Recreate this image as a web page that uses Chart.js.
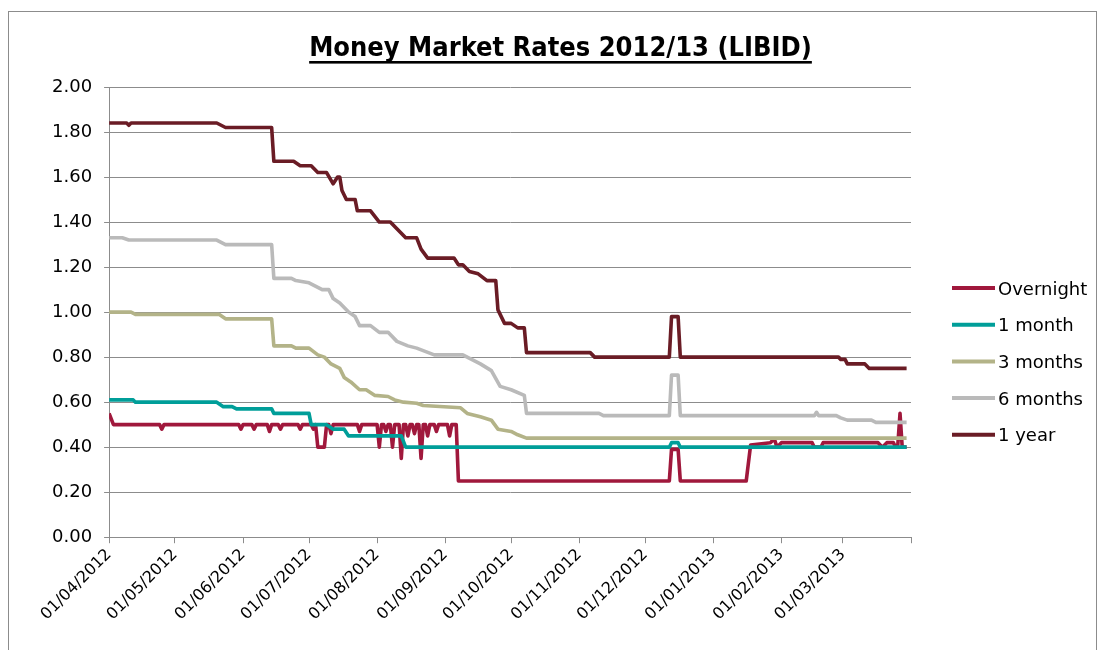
<!DOCTYPE html>
<html>
<head>
<meta charset="utf-8">
<script src="https://cdn.jsdelivr.net/npm/chart.js@4/dist/chart.umd.min.js"></script>
<style>
html,body{margin:0;padding:0;background:#ffffff;}
#wrap{width:1103px;height:650px;position:relative;}
</style>
</head>
<body>
<div id="wrap"><canvas id="c" width="1103" height="650"></canvas></div>
<script>
// x values are days since 01/04/2012
const tickDays   = [0, 30, 61, 91, 122, 153, 183, 214, 244, 275, 306, 334, 365];
const tickLabels = ['01/04/2012','01/05/2012','01/06/2012','01/07/2012','01/08/2012','01/09/2012',
                    '01/10/2012','01/11/2012','01/12/2012','01/01/2013','01/02/2013','01/03/2013',''];
const yTicks = [0, 0.2, 0.4, 0.6, 0.8, 1.0, 1.2, 1.4, 1.6, 1.8, 2.0];

const seriesNames  = ['Overnight', '1 month', '3 months', '6 months', '1 year'];
const seriesColors = ['#A0183C', '#009E99', '#B3B388', '#BABABA', '#6A1C25'];

const overnightDays  = [0,2,23,24,25,59,60,61,65,66,67,72,73,74,77,78,79,86,87,88,92,93,94,95,98,99,100,101,102,113,114,115,
                        122,123,124,125,126,127,128,129,130,132,133,134,135,136,137,138,139,140,141,142,143,144,145,146,148,149,150,
                        154,155,156,158,159,255,256,259,260,290,292,301,302,303,304,306,320,321,324,325,350,352,354,357,358,359,360,361,363];
const overnightRates = [0.55,0.50,0.50,0.48,0.50,0.50,0.48,0.50,0.50,0.48,0.50,0.50,0.47,0.50,0.50,0.48,0.50,0.50,0.48,0.50,0.50,0.48,0.50,0.40,0.40,0.50,0.50,0.46,0.50,0.50,0.47,0.50,
                        0.50,0.40,0.50,0.50,0.47,0.50,0.50,0.40,0.50,0.50,0.35,0.50,0.50,0.45,0.50,0.50,0.46,0.50,0.50,0.35,0.50,0.50,0.45,0.50,0.50,0.47,0.50,
                        0.50,0.45,0.50,0.50,0.25,0.25,0.39,0.39,0.25,0.25,0.41,0.42,0.43,0.43,0.40,0.42,0.42,0.40,0.40,0.42,0.42,0.40,0.42,0.42,0.40,0.41,0.55,0.40,0.40];

const oneMonthDays  = [0,11,12,49,52,56,58,74,75,91,92,99,102,107,109,133,135,255,256,259,260,363];
const oneMonthRates = [0.61,0.61,0.60,0.60,0.58,0.58,0.57,0.57,0.55,0.55,0.50,0.50,0.48,0.48,0.45,0.45,0.40,0.40,0.42,0.42,0.40,0.40];

const threeMonthDays  = [0,10,12,50,53,74,75,83,85,91,95,98,101,105,107,110,114,117,121,127,130,134,140,143,160,163,169,174,177,183,186,190,363];
const threeMonthRates = [1.00,1.00,0.99,0.99,0.97,0.97,0.85,0.85,0.84,0.84,0.81,0.80,0.77,0.75,0.71,0.69,0.655,0.655,0.63,0.625,0.61,0.60,0.595,0.585,0.575,0.55,0.535,0.52,0.48,0.47,0.455,0.44,0.44];

const sixMonthDays  = [0,6,9,49,53,74,75,83,85,91,93,97,100,102,105,109,112,114,119,123,127,131,136,140,148,161,165,169,174,178,183,189,190,
                       223,225,255,256,259,260,321,322,323,331,333,336,347,349,363];
const sixMonthRates = [1.33,1.33,1.32,1.32,1.30,1.30,1.15,1.15,1.14,1.13,1.12,1.10,1.10,1.06,1.04,1.00,0.98,0.94,0.94,0.91,0.91,0.87,0.85,0.84,0.81,0.81,0.79,0.77,0.74,0.67,0.655,0.63,0.55,
                       0.55,0.54,0.54,0.72,0.72,0.54,0.54,0.555,0.54,0.54,0.53,0.52,0.52,0.51,0.51];

const oneYearDays  = [0,8,9,10,49,53,74,75,84,87,92,95,99,102,104,105,106,108,112,113,119,123,128,131,135,140,142,145,157,159,161,164,168,172,176,177,180,183,186,189,190,
                      219,221,255,256,259,260,332,333,335,336,344,346,363];
const oneYearRates = [1.84,1.84,1.83,1.84,1.84,1.82,1.82,1.67,1.67,1.65,1.65,1.62,1.62,1.57,1.60,1.60,1.54,1.50,1.50,1.45,1.45,1.40,1.40,1.37,1.33,1.33,1.28,1.24,1.24,1.21,1.21,1.18,1.17,1.14,1.14,1.01,0.95,0.95,0.93,0.93,0.82,
                      0.82,0.80,0.80,0.98,0.98,0.80,0.80,0.79,0.79,0.77,0.77,0.75,0.75];

const seriesDays  = [overnightDays, oneMonthDays, threeMonthDays, sixMonthDays, oneYearDays];
const seriesRates = [overnightRates, oneMonthRates, threeMonthRates, sixMonthRates, oneYearRates];

const TITLE = 'Money Market Rates 2012/13 (LIBID)';
const GRID = '#8C8C8C';
const FONT = "'DejaVu Sans', sans-serif";

const datasets = seriesNames.map((name, i) => ({
  label: name,
  data: seriesDays[i].map((d, k) => ({x: d, y: seriesRates[i][k]})),
  borderColor: seriesColors[i],
  backgroundColor: seriesColors[i],
  borderWidth: 3.6,
  pointRadius: 0,
  tension: 0,
  borderJoinStyle: 'round',
  order: seriesNames.length - i
}));

const decor = {
  id: 'decor',
  beforeDraw(chart) {
    const ctx = chart.ctx;
    ctx.save();
    ctx.fillStyle = '#ffffff';
    ctx.fillRect(0, 0, chart.width, chart.height);
    ctx.strokeStyle = '#8C8C8C';
    ctx.lineWidth = 1;
    ctx.strokeRect(8.5, 11.5, 1088, 700);
    ctx.restore();
  },
  afterDraw(chart) {
    const ctx = chart.ctx;
    const area = chart.chartArea;
    ctx.save();
    // title with underline
    ctx.font = "bold 27px 'DejaVu Sans Condensed', 'DejaVu Sans', sans-serif";
    ctx.fillStyle = '#000';
    ctx.textAlign = 'center';
    ctx.textBaseline = 'alphabetic';
    const cx = 560.5;
    ctx.fillText(TITLE, cx, 56);
    const w = ctx.measureText(TITLE).width;
    ctx.fillRect(cx - w / 2, 61, w, 2.6);
    // legend
    ctx.font = '18px ' + FONT;
    ctx.textAlign = 'left';
    const x0 = area.right + 41, x1 = area.right + 84;
    chart.data.datasets.forEach((ds, i) => {
      const y = 288 + i * 36.7;
      ctx.strokeStyle = ds.borderColor;
      ctx.lineWidth = 4;
      ctx.beginPath();
      ctx.moveTo(x0, y);
      ctx.lineTo(x1, y);
      ctx.stroke();
      ctx.fillStyle = '#000';
      ctx.fillText(ds.label, x1 + 3, y + 6.5);
    });
    ctx.restore();
  }
};

new Chart(document.getElementById('c'), {
  type: 'line',
  data: { datasets },
  options: {
    responsive: false,
    animation: false,
    devicePixelRatio: 1,
    layout: { padding: { left: 40, right: 192, top: 87, bottom: 24 } },
    plugins: { legend: { display: false }, tooltip: { enabled: false }, title: { display: false } },
    scales: {
      x: {
        type: 'linear',
        min: tickDays[0],
        max: tickDays[tickDays.length - 1],
        afterBuildTicks: (scale) => { scale.ticks = tickDays.map(v => ({ value: v })); },
        afterFit: (scale) => { scale.paddingLeft = 0; scale.paddingRight = 0; },
        ticks: {
          autoSkip: false,
          minRotation: 45,
          maxRotation: 45,
          color: '#000',
          font: { family: FONT, size: 16 },
          padding: 2,
          callback: (v) => { const i = tickDays.indexOf(v); return i >= 0 ? tickLabels[i] : ''; }
        },
        grid: { drawOnChartArea: false, drawTicks: true, tickLength: 6, color: GRID },
        border: { display: true, color: GRID, width: 1 }
      },
      y: {
        min: 0,
        max: 2,
        afterBuildTicks: (scale) => { scale.ticks = yTicks.map(v => ({ value: v })); },
        ticks: {
          color: '#000',
          font: { family: FONT, size: 18 },
          padding: 12,
          callback: (v) => Number(v).toFixed(2)
        },
        grid: { color: GRID, lineWidth: 1, drawTicks: true, tickLength: 5 },
        border: { display: true, color: GRID, width: 1 }
      }
    }
  },
  plugins: [decor]
});
</script>
</body>
</html>
